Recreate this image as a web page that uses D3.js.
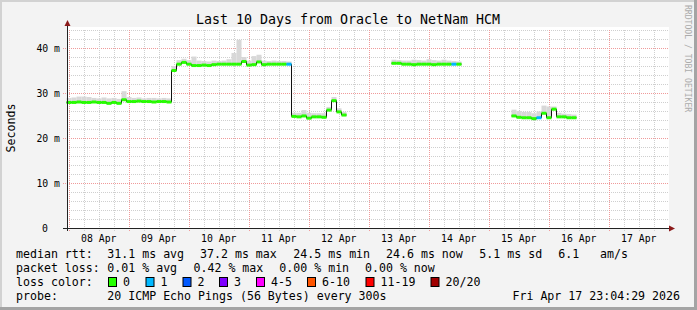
<!DOCTYPE html>
<html>
<head>
<meta charset="utf-8">
<script src="https://d3js.org/d3.v7.min.js"></script>
<style>
  body { margin: 0; background: #f3f3f3; }
  text { font-family: "DejaVu Sans Mono", monospace; }
</style>
</head>
<body>
<script>
// graph window, data in 2 hour bins from startTime
var startTime = Date.UTC(2026, 3, 7, 23, 4, 29),
    endTime = Date.UTC(2026, 3, 17, 23, 4, 29),
    binMs = 2 * 3600 * 1000;

// median rtt per bin (ms), null = no data
var median = [
  27.9, 27.9, 28.0, 27.9, 27.9, 28.0, 27.9, 27.9, 27.7, 27.9,
  27.7, 28.5, 28.1, 28.1, 28.2, 28.1, 28.1, 28.0, 28.1, 28.1,
  28.0, 35.0, 36.4, 36.8, 36.4, 36.1, 36.1, 36.2, 36.1, 36.3,
  36.4, 36.4, 36.4, 36.4, 36.4, 37.0, 36.2, 36.3, 36.9, 36.3,
  36.4, 36.4, 36.4, 36.4, 36.4, 24.8, 24.7, 24.9, 24.4, 24.7,
  24.7, 24.6, 26.2, 28.3, 25.8, 25.1, null, null, null, null,
  null, null, null, null, null, 36.6, 36.6, 36.4, 36.4, 36.3,
  36.4, 36.4, 36.4, 36.3, 36.4, 36.4, 36.4, 36.4, 36.4, null,
  null, null, null, null, null, null, null, null, null, 24.9,
  24.6, 24.5, 24.5, 24.3, 24.5, 25.5, 24.5, 26.4, 24.7, 24.7,
  24.5, 24.5, null, null, null, null, null, null, null, null,
  null, null, null, null, null, null, null, null, null, null
];

// top of the smoke per bin (ms)
var smokeHi = [
  28.9, 29.0, 29.2, 29.2, 29.1, 28.9, 28.8, 29.0, 28.8, 28.9,
  28.7, 30.4, 29.1, 28.9, 29.0, 28.8, 28.9, 28.9, 28.8, 28.9,
  28.8, 36.0, 37.3, 37.6, 37.3, 38.1, 37.2, 37.1, 37.0, 37.2,
  37.1, 37.2, 37.5, 38.9, 41.8, 38.0, 37.2, 38.2, 38.5, 37.2,
  37.1, 37.2, 37.1, 37.1, 37.0, 25.6, 25.6, 26.2, 25.6, 25.5,
  25.5, 25.5, 26.9, 29.1, 26.6, 25.8, null, null, null, null,
  null, null, null, null, null, 37.4, 37.3, 37.2, 37.2, 37.4,
  37.3, 37.2, 37.5, 37.3, 37.2, 37.4, 37.2, 37.1, 37.0, null,
  null, null, null, null, null, null, null, null, null, 26.3,
  26.0, 25.8, 25.8, 25.5, 25.9, 27.2, 27.0, 27.0, 25.6, 25.4,
  25.3, 25.2, null, null, null, null, null, null, null, null,
  null, null, null, null, null, null, null, null, null, null
];

// bins where some packets were lost (lost pings out of 20)
var lossBins = [44, 77, 94];
var lossCounts = [1, 1, 1];

var lossLabels = ["0", "1", "2", "3", "4-5", "6-10", "11-19", "20/20"];
var lossColors = ["#26ff00", "#00b8ff", "#0059ff", "#7e00ff", "#ff00ff", "#ff5500", "#ff0000", "#a00000"];
var lossBoxX = [108, 145.5, 182.5, 219, 256, 307, 365.5, 430.5];

var yTicks = [0, 10, 20, 30, 40];
var yTickLabels = ["0", "10 m", "20 m", "30 m", "40 m"];
var dayLabels = ["08 Apr", "09 Apr", "10 Apr", "11 Apr", "12 Apr", "13 Apr", "14 Apr", "15 Apr", "16 Apr", "17 Apr"];

var W = 697, H = 310;
var svg = d3.select("body").append("svg")
  .attr("width", W).attr("height", H);

svg.append("rect").attr("width", W).attr("height", H).attr("fill", "#f3f3f3");
// frame
svg.append("rect").attr("x", 0).attr("y", 0).attr("width", W).attr("height", 2).attr("fill", "#d2d2d2");
svg.append("rect").attr("x", 0).attr("y", 0).attr("width", 2).attr("height", H).attr("fill", "#d2d2d2");
svg.append("rect").attr("x", 0).attr("y", H - 3).attr("width", W).attr("height", 3).attr("fill", "#a4a4a4");
svg.append("rect").attr("x", W - 3).attr("y", 0).attr("width", 3).attr("height", H).attr("fill", "#a4a4a4");

var x = d3.scaleTime().domain([startTime, endTime]).range([66.5, 666.5]);
var y = d3.scaleLinear().domain([0, 44]).range([228, 30]);

// plot area
svg.append("rect").attr("x", 67).attr("y", 27).attr("width", 602).attr("height", 201).attr("fill", "#ffffff");

var grid = svg.append("g").attr("stroke-width", 1).attr("stroke-dasharray", "1,1").attr("shape-rendering", "crispEdges");

// horizontal grid
d3.range(0, 44.01, 2).forEach(function(v) {
  var major = v % 10 === 0;
  var yy = Math.round(y(v)) + 0.5;
  grid.append("line")
    .attr("x1", major ? 63 : 67).attr("x2", 668)
    .attr("y1", yy).attr("y2", yy)
    .attr("stroke", major ? "#f09a9a" : "#cfcfcf");
});

// vertical grid
var sixHours = d3.utcHour.every(6).range(new Date(startTime), new Date(endTime));
sixHours.forEach(function(t) {
  var major = t.getUTCHours() === 0;
  var xx = Math.round(x(t)) + 0.5;
  grid.append("line")
    .attr("x1", xx).attr("x2", xx)
    .attr("y1", 30).attr("y2", 231)
    .attr("stroke", major ? "#f09a9a" : "#cfcfcf");
});

// smoke
var bins = median.map(function(v, i) {
  return { t0: startTime + i * binMs, t1: startTime + (i + 1) * binMs, v: v, hi: smokeHi[i], loss: 0 };
});
lossBins.forEach(function(b, k) { bins[b].loss = lossCounts[k]; });

svg.append("g").selectAll("rect")
  .data(bins.filter(function(d) { return d.v != null; }))
  .join("rect")
  .attr("x", function(d) { return x(d.t0); })
  .attr("width", function(d) { return x(d.t1) - x(d.t0); })
  .attr("y", function(d) { return y(d.hi); })
  .attr("height", function(d) { return y(d.v) - y(d.hi); })
  .attr("fill", "#d8d8d8");

// thin black median line (step)
var pts = [];
bins.forEach(function(d, i) {
  pts.push({ t: d.t0, v: d.v });
  if (d.v != null && (i + 1 >= bins.length || bins[i + 1].v == null)) pts.push({ t: d.t1, v: d.v });
});
var line = d3.line()
  .defined(function(d) { return d.v != null; })
  .x(function(d) { return x(d.t); })
  .y(function(d) { return y(d.v); })
  .curve(d3.curveStepAfter);
svg.append("path").datum(pts)
  .attr("d", line).attr("fill", "none").attr("stroke", "#111").attr("stroke-width", 1);

// loss coloured median
function lossColor(n) {
  if (n === 0) return lossColors[0];
  if (n <= 3) return lossColors[n];
  if (n <= 5) return lossColors[4];
  if (n <= 10) return lossColors[5];
  if (n < 20) return lossColors[6];
  return lossColors[7];
}
svg.append("g").selectAll("line")
  .data(bins.filter(function(d) { return d.v != null; }))
  .join("line")
  .attr("x1", function(d) { return x(d.t0); })
  .attr("x2", function(d) { return x(d.t1); })
  .attr("y1", function(d) { return y(d.v); })
  .attr("y2", function(d) { return y(d.v); })
  .attr("stroke", function(d) { return lossColor(d.loss); })
  .attr("stroke-width", 3);

// axes
svg.append("line").attr("x1", 63).attr("x2", 669).attr("y1", 228.5).attr("y2", 228.5)
  .attr("stroke", "#222").attr("stroke-width", 1);
svg.append("line").attr("x1", 67.5).attr("x2", 67.5).attr("y1", 231).attr("y2", 25)
  .attr("stroke", "#222").attr("stroke-width", 1);
svg.append("path").attr("d", "M67.5,20 L64.5,26 L70.5,26 Z").attr("fill", "#8b1a1a");
svg.append("path").attr("d", "M675,228.5 L669,225.5 L669,231.5 Z").attr("fill", "#8b1a1a");

// y tick labels
yTicks.forEach(function(v, i) {
  svg.append("text")
    .attr("x", v === 0 ? 48 : 60).attr("y", y(v) + 3.5)
    .attr("text-anchor", "end").attr("font-size", "9.8px").attr("fill", "#000")
    .text(yTickLabels[i]);
});

// day labels at noon
dayLabels.forEach(function(lab, i) {
  var noon = Date.UTC(2026, 3, 8 + i, 12, 0, 0);
  svg.append("text")
    .attr("x", x(noon)).attr("y", 241.5)
    .attr("text-anchor", "middle").attr("font-size", "9.8px").attr("fill", "#000")
    .text(lab);
});

// title and labels
svg.append("text").attr("x", 348).attr("y", 24).attr("text-anchor", "middle")
  .attr("font-size", "13.3px").attr("fill", "#000")
  .text("Last 10 Days from Oracle to NetNam HCM");

svg.append("text").attr("transform", "translate(15,128) rotate(-90)")
  .attr("text-anchor", "middle").attr("font-size", "11.6px").attr("fill", "#000")
  .text("Seconds");

svg.append("text").attr("transform", "translate(685,5) rotate(90)")
  .attr("font-size", "8.1px").attr("fill", "#ababab")
  .text("RRDTOOL / TOBI OETIKER");

// legend
var legendRows = [
  [[16, "median rtt:"], [107.3, "31.1 ms avg"], [200, "37.2 ms max"], [293.3, "24.5 ms min"],
   [386, "24.6 ms now"], [479.3, "5.1 ms sd"], [558.3, "6.1"], [600, "am/s"]],
  [[16, "packet loss:"], [107.3, "0.01 % avg"], [193.5, "0.42 % max"], [279.3, "0.00 % min"], [365, "0.00 % now"]],
  [[16, "loss color:"]],
  [[16, "probe:"], [107.3, "20 ICMP Echo Pings (56 Bytes) every 300s"]]
];
var rowY = [258, 272, 286, 300];
legendRows.forEach(function(row, r) {
  row.forEach(function(item) {
    svg.append("text").attr("x", item[0]).attr("y", rowY[r])
      .attr("font-size", "11.6px").attr("fill", "#000")
      .style("white-space", "pre")
      .text(item[1]);
  });
});
svg.append("text").attr("x", 680).attr("y", 300).attr("text-anchor", "end")
  .attr("font-size", "11.6px").attr("fill", "#000")
  .text("Fri Apr 17 23:04:29 2026");

lossLabels.forEach(function(lab, i) {
  svg.append("rect").attr("x", lossBoxX[i] + 0.5).attr("y", 277.5)
    .attr("width", 8).attr("height", 9)
    .attr("fill", lossColors[i]).attr("stroke", "#000").attr("stroke-width", 1);
  svg.append("text").attr("x", lossBoxX[i] + 15).attr("y", 286)
    .attr("font-size", "11.6px").attr("fill", "#000")
    .text(lab);
});
</script>
</body>
</html>
